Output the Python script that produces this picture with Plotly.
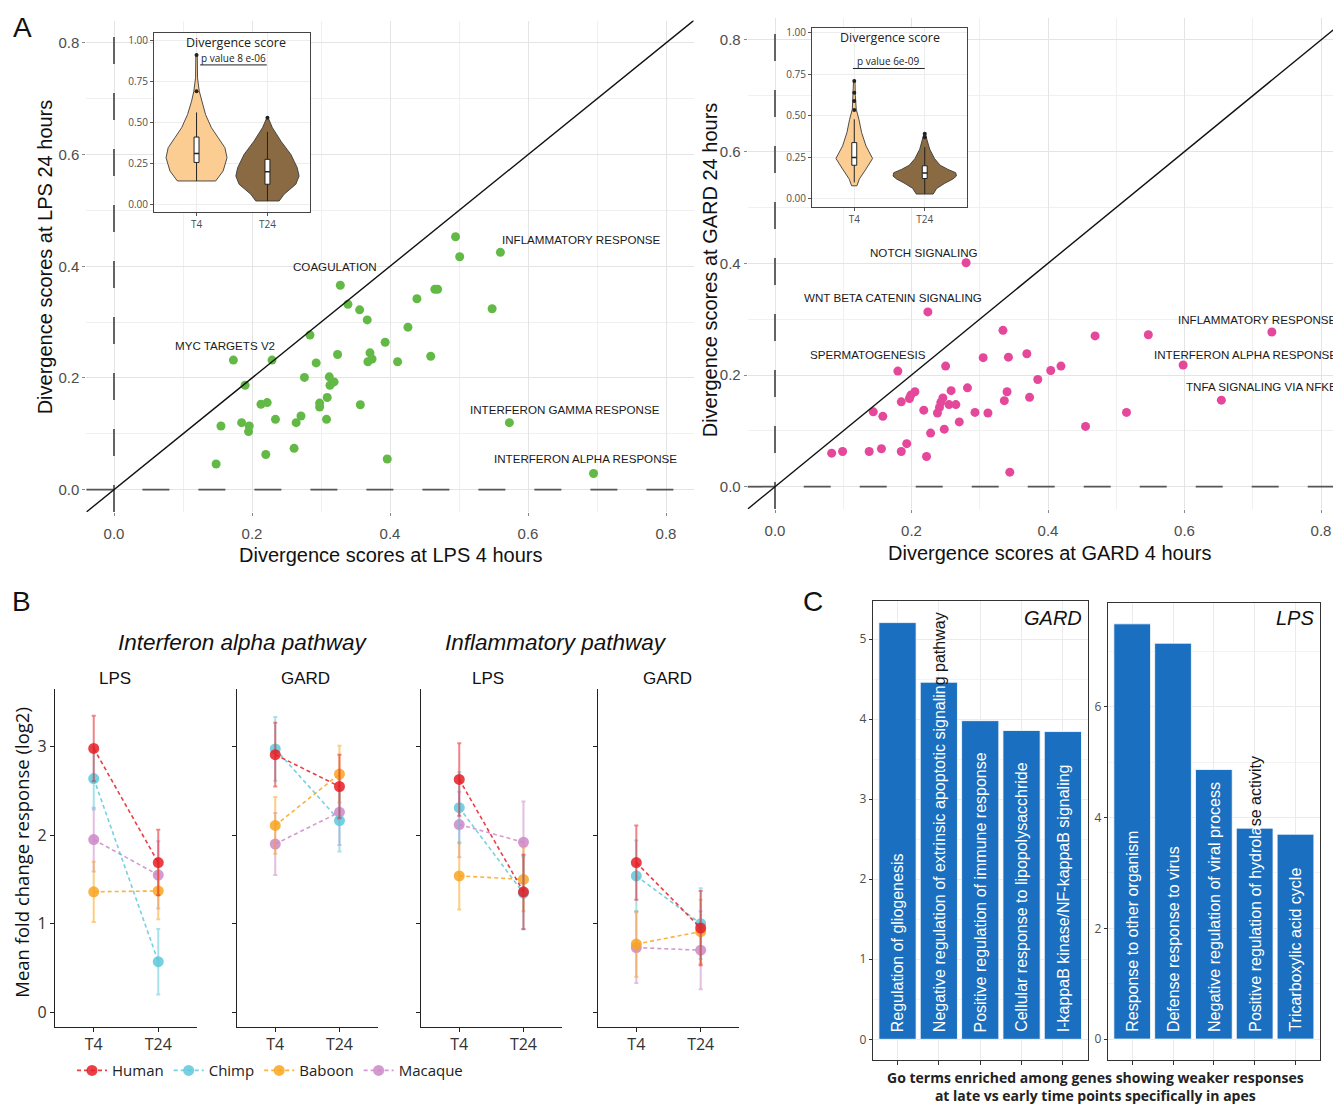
import plotly.graph_objects as go

# The page body adds an 8px margin, so the figure is sized/positioned to compensate.
OFF = 8
W, H = 1341, 1105
FW, FH = W - OFF, H - OFF
def fx(p): return (p - OFF) / FW
def fy(p): return 1 - (p - OFF) / FH

SANS = "Liberation Sans, Arial, sans-serif"
OPEN = "Open Sans, Liberation Sans, Arial, sans-serif"

# ---------------- Panel A data ----------------
lps4 = [0.495, 0.560, 0.501, 0.328, 0.339, 0.356, 0.367, 0.465, 0.469, 0.439, 0.548, 0.426,
        0.284, 0.393, 0.229, 0.173, 0.324, 0.371, 0.374, 0.368, 0.411, 0.459, 0.293, 0.276,
        0.312, 0.319, 0.313, 0.190, 0.309, 0.357, 0.298, 0.298, 0.213, 0.222, 0.271, 0.234,
        0.308, 0.264, 0.185, 0.196, 0.195, 0.155, 0.220, 0.261, 0.396, 0.148, 0.573, 0.695]
lps24 = [0.453, 0.425, 0.417, 0.366, 0.332, 0.322, 0.304, 0.359, 0.359, 0.342, 0.324, 0.291,
         0.277, 0.264, 0.232, 0.232, 0.242, 0.245, 0.234, 0.229, 0.229, 0.239, 0.227, 0.201,
         0.202, 0.193, 0.187, 0.187, 0.165, 0.152, 0.155, 0.148, 0.153, 0.156, 0.132, 0.126,
         0.126, 0.120, 0.120, 0.114, 0.104, 0.114, 0.063, 0.074, 0.055, 0.046, 0.120, 0.029]
gard4 = [0.280, 0.224, 0.334, 0.469, 0.547, 0.728, 0.305, 0.342, 0.369, 0.250, 0.180, 0.404,
         0.419, 0.598, 0.385, 0.654, 0.282, 0.340, 0.373, 0.336, 0.258, 0.205, 0.199, 0.197,
         0.185, 0.246, 0.243, 0.255, 0.265, 0.241, 0.218, 0.238, 0.293, 0.312, 0.515, 0.144,
         0.158, 0.270, 0.455, 0.228, 0.248, 0.193, 0.083, 0.099, 0.138, 0.156, 0.185, 0.222, 0.344]
gard24 = [0.401, 0.313, 0.280, 0.270, 0.272, 0.277, 0.231, 0.232, 0.238, 0.216, 0.207, 0.208,
          0.216, 0.218, 0.192, 0.155, 0.177, 0.170, 0.160, 0.154, 0.172, 0.170, 0.164, 0.158,
          0.152, 0.159, 0.151, 0.147, 0.147, 0.142, 0.137, 0.132, 0.133, 0.132, 0.133, 0.134,
          0.126, 0.116, 0.108, 0.096, 0.103, 0.077, 0.060, 0.063, 0.063, 0.068, 0.063, 0.054, 0.026]

lps_labels = ["INFLAMMATORY RESPONSE", "COAGULATION", "MYC TARGETS V2",
              "INTERFERON GAMMA RESPONSE", "INTERFERON ALPHA RESPONSE"]
lps_label_x = [0.677, 0.320, 0.161, 0.654, 0.683]
lps_label_y = [0.448, 0.400, 0.259, 0.143, 0.055]
gard_labels = ["NOTCH SIGNALING", "WNT BETA CATENIN SIGNALING", "SPERMATOGENESIS"]
gard_label_x = [0.219, 0.173, 0.136]
gard_label_y = [0.420, 0.339, 0.236]
gard_edge_labels = ["INFLAMMATORY RESPONSE", "INTERFERON ALPHA RESPONSE", "TNFA SIGNALING VIA NFKB"]
gard_edge_x = 0.8264
gard_edge_y = [0.300, 0.2375, 0.180]
a_ticks = [0.0, 0.2, 0.4, 0.6, 0.8]
a_ticktext = ["0.0", "0.2", "0.4", "0.6", "0.8"]

# ---------------- Inset violins (divergence score) ----------------
inset_ticks = [0, 0.25, 0.5, 0.75, 1.0]
inset_ticktext = ["0.00", "0.25", "0.50", "0.75", "1.00"]
time_pos = [1, 2]
time_labels = ["T4", "T24"]
# LPS inset
lv4_y = [0.142, 0.203, 0.284, 0.345, 0.406, 0.467, 0.547, 0.629, 0.69, 0.771, 0.912]
lv4_w = [0.27, 0.375, 0.43, 0.40, 0.305, 0.21, 0.127, 0.07, 0.038, 0.014, 0.01]
lv24_y = [0.02, 0.061, 0.122, 0.172, 0.223, 0.304, 0.385, 0.467, 0.527]
lv24_w = [0.165, 0.235, 0.40, 0.446, 0.42, 0.33, 0.19, 0.07, 0.01]
lbox_low = [0.142, 0.02]
lbox_q1 = [0.255, 0.122]
lbox_med = [0.31, 0.198]
lbox_q3 = [0.41, 0.274]
lbox_high = [0.56, 0.442]
lout4 = [0.69, 0.91]
lout24 = [0.527]
lps_p = "p value 8 e-06"
# GARD inset
gv4_y = [0.076, 0.116, 0.177, 0.241, 0.317, 0.398, 0.478, 0.538, 0.62, 0.715]
gv4_w = [0.038, 0.071, 0.166, 0.26, 0.166, 0.104, 0.066, 0.028, 0.015, 0.01]
gv24_y = [0.026, 0.06, 0.09, 0.117, 0.135, 0.155, 0.175, 0.2, 0.24, 0.297, 0.357, 0.393]
gv24_w = [0.12, 0.17, 0.28, 0.40, 0.45, 0.44, 0.33, 0.22, 0.14, 0.071, 0.03, 0.01]
gbox_low = [0.096, 0.026]
gbox_q1 = [0.2, 0.12]
gbox_med = [0.247, 0.153]
gbox_q3 = [0.337, 0.197]
gbox_high = [0.478, 0.31]
gout4 = [0.534, 0.589, 0.639, 0.709]
gout24 = [0.37, 0.39]
gard_p = "p value 6e-09"

# ---------------- Panel B data ----------------
species = ["Human", "Chimp", "Baboon", "Macaque"]
species_colors = ["228,30,38", "94,200,220", "249,165,30", "204,136,200"]
b_ticktext = ["T4", "T24"]
b_yticks = [0, 1, 2, 3]
b_panels = ["LPS", "GARD", "LPS", "GARD"]
b_pathways = ["Interferon alpha pathway", "Inflammatory pathway"]
ifn_lps_t4 = [2.98, 2.64, 1.36, 1.95]
ifn_lps_t24 = [1.69, 0.57, 1.37, 1.55]
ifn_lps_e4 = [0.37, 0.35, 0.34, 0.36]
ifn_lps_e24 = [0.37, 0.37, 0.32, 0.38]
ifn_gard_t4 = [2.91, 2.975, 2.11, 1.90]
ifn_gard_t24 = [2.55, 2.165, 2.69, 2.26]
ifn_gard_e4 = [0.36, 0.36, 0.32, 0.35]
ifn_gard_e24 = [0.36, 0.35, 0.32, 0.37]
inf_lps_t4 = [2.63, 2.31, 1.54, 2.12]
inf_lps_t24 = [1.36, 1.345, 1.50, 1.92]
inf_lps_e4 = [0.41, 0.40, 0.38, 0.37]
inf_lps_e24 = [0.42, 0.41, 0.36, 0.46]
inf_gard_t4 = [1.69, 1.54, 0.77, 0.73]
inf_gard_t24 = [0.95, 1.00, 0.91, 0.70]
inf_gard_e4 = [0.42, 0.40, 0.37, 0.40]
inf_gard_e24 = [0.42, 0.40, 0.36, 0.44]

# ---------------- Panel C data ----------------
c_pos = [1, 2, 3, 4, 5]
c_gard_terms = ["Regulation of gliogenesis",
                "Negative regulation of extrinsic apoptotic signaling pathway",
                "Positive regulation of immune response",
                "Cellular response to lipopolysacchride",
                "I-kappaB kinase/NF-kappaB signaling"]
c_gard_vals = [5.205, 4.46, 3.98, 3.857, 3.844]
c_lps_terms = ["Response to other organism", "Defense response to virus",
               "Negative regulation of viral process",
               "Positive regulation of hydrolase activity", "Tricarboxylic acid cycle"]
c_lps_vals = [7.50, 7.15, 4.87, 3.81, 3.70]
# characters of each label that sit inside the bar (the rest overflows above in black)
c_gard_split = [None, 51, None, None, None]
c_lps_split = [None, None, None, 30, None]

fig = go.Figure()

# ---------- Panel A scatter ----------
fig.add_trace(go.Scatter(x=lps4, y=lps24, mode="markers", xaxis="x", yaxis="y",
                         marker=dict(color="#63B946", size=9), showlegend=False))
fig.add_trace(go.Scatter(x=gard4, y=gard24, mode="markers", xaxis="x2", yaxis="y2",
                         marker=dict(color="#E5479B", size=9), showlegend=False))

# ---------- Insets ----------
BOX_HW = 0.035
def violin(center, ys, ws, color, xa, ya):
    xs = [center + w for w in ws] + [center - w for w in reversed(ws)] + [center + ws[0]]
    yy = list(ys) + list(reversed(ys)) + [ys[0]]
    fig.add_trace(go.Scatter(x=xs, y=yy, mode="lines", fill="toself", fillcolor=color,
                             line=dict(color="#3a3a3a", width=0.9), xaxis=xa, yaxis=ya,
                             showlegend=False, hoverinfo="skip"))

def boxplot(c, low, q1, med, q3, high, outs, xa, ya):
    fig.add_trace(go.Scatter(x=[c, c, None, c, c], y=[low, q1, None, q3, high], mode="lines",
                             line=dict(color="#222", width=1), xaxis=xa, yaxis=ya,
                             showlegend=False, hoverinfo="skip"))
    fig.add_trace(go.Scatter(x=[c - BOX_HW, c + BOX_HW, c + BOX_HW, c - BOX_HW, c - BOX_HW],
                             y=[q1, q1, q3, q3, q1], mode="lines", fill="toself",
                             fillcolor="white", line=dict(color="#222", width=1),
                             xaxis=xa, yaxis=ya, showlegend=False, hoverinfo="skip"))
    fig.add_trace(go.Scatter(x=[c - BOX_HW, c + BOX_HW], y=[med, med], mode="lines",
                             line=dict(color="#222", width=1.6), xaxis=xa, yaxis=ya,
                             showlegend=False, hoverinfo="skip"))
    fig.add_trace(go.Scatter(x=[c] * len(outs), y=outs, mode="markers",
                             marker=dict(color="#222", size=4), xaxis=xa, yaxis=ya,
                             showlegend=False, hoverinfo="skip"))

def inset(xa, ya, v4y, v4w, v24y, v24w, low, q1, med, q3, high, o4, o24):
    violin(time_pos[0], v4y, v4w, "#FCCD92", xa, ya)
    violin(time_pos[1], v24y, v24w, "#8A6A42", xa, ya)
    for i, outs in enumerate([o4, o24]):
        boxplot(time_pos[i], low[i], q1[i], med[i], q3[i], high[i], outs, xa, ya)

inset("x3", "y3", lv4_y, lv4_w, lv24_y, lv24_w, lbox_low, lbox_q1, lbox_med, lbox_q3,
      lbox_high, lout4, lout24)
inset("x4", "y4", gv4_y, gv4_w, gv24_y, gv24_w, gbox_low, gbox_q1, gbox_med, gbox_q3,
      gbox_high, gout4, gout24)

# ---------- Panel B ----------
b_data = [(ifn_lps_t4, ifn_lps_t24, ifn_lps_e4, ifn_lps_e24),
          (ifn_gard_t4, ifn_gard_t24, ifn_gard_e4, ifn_gard_e24),
          (inf_lps_t4, inf_lps_t24, inf_lps_e4, inf_lps_e24),
          (inf_gard_t4, inf_gard_t24, inf_gard_e4, inf_gard_e24)]
draw_order = [3, 2, 1, 0]
for k, (t4, t24, e4, e24) in enumerate(b_data):
    xa, ya = "x%d" % (5 + k), "y%d" % (5 + k)
    for s in draw_order:
        c = species_colors[s]
        fig.add_trace(go.Scatter(
            x=time_pos, y=[t4[s], t24[s]], mode="lines+markers", xaxis=xa, yaxis=ya,
            name=species[s], legendrank=s + 1, showlegend=(k == 0),
            line=dict(color="rgba(%s,0.85)" % c, width=1.6, dash="4px,3px"),
            marker=dict(color="rgba(%s,0.85)" % c, size=11),
            error_y=dict(type="data", array=[e4[s], e24[s]], color="rgba(%s,0.55)" % c,
                         thickness=2, width=2)))

# ---------- Panel C ----------
for vals, xa, ya in [(c_gard_vals, "x9", "y9"), (c_lps_vals, "x10", "y10")]:
    fig.add_trace(go.Bar(x=c_pos, y=vals, width=0.9, xaxis=xa, yaxis=ya,
                         marker=dict(color="#1B6FC0", line=dict(color="white", width=0.8)),
                         showlegend=False))

# ---------- Axes ----------
def dom_x(a, b): return [max(0.0, fx(a)), min(1.0, fx(b))]
def dom_y(top, bot): return [fy(bot), fy(top)]

tickfontA = dict(family=SANS, size=15, color="#4D4D4D")
axA = dict(showgrid=True, gridcolor="#E4E4E4", gridwidth=1.2, zeroline=False,
           ticks="outside", ticklen=3, tickcolor="#888", tickfont=tickfontA,
           tickvals=a_ticks, ticktext=a_ticktext, showline=False,
           minor=dict(dtick=0.1, tick0=0, showgrid=True, gridcolor="#F0F0F0", gridwidth=1))
layout = {}
layout["xaxis"] = dict(axA, domain=dom_x(86.4, 693.6), range=[-0.04, 0.84], anchor="y",
                       ticklabelstandoff=5)
layout["yaxis"] = dict(axA, domain=dom_y(17.6, 510.4), range=[-0.04, 0.84], anchor="x")
layout["xaxis2"] = dict(axA, domain=dom_x(747.7, 1341), range=[-0.04, 0.8293], anchor="y2",
                        ticklabelstandoff=5)
layout["yaxis2"] = dict(axA, domain=dom_y(14.6, 507.4), range=[-0.04, 0.84], anchor="x2")

axI = dict(showgrid=True, gridcolor="#EDEDED", zeroline=False, ticks="outside", ticklen=3,
           tickcolor="#555", showline=True, mirror=True, linecolor="#444", linewidth=1,
           tickfont=dict(family=OPEN, size=10, color="#4D4D4D"))
layout["xaxis3"] = dict(axI, domain=dom_x(154, 310), range=[0.4, 2.6], anchor="y3",
                        tickvals=time_pos, ticktext=time_labels)
layout["yaxis3"] = dict(axI, domain=dom_y(30, 210), range=[-0.05, 1.045], anchor="x3",
                        tickvals=inset_ticks, ticktext=inset_ticktext)
layout["xaxis4"] = dict(axI, domain=dom_x(812, 967), range=[0.4, 2.6], anchor="y4",
                        tickvals=time_pos, ticktext=time_labels)
layout["yaxis4"] = dict(axI, domain=dom_y(25, 205), range=[-0.055, 1.03], anchor="x4",
                        tickvals=inset_ticks, ticktext=inset_ticktext)

b_x = [(55, 197), (236.7, 378), (420.7, 562), (597.7, 739.3)]
axBx = dict(range=[0.4, 2.6], tickvals=time_pos, ticktext=b_ticktext, showgrid=False,
            zeroline=False, showline=True, linecolor="#222", linewidth=1.4, ticks="outside",
            ticklen=4, tickcolor="#222", tickfont=dict(family=OPEN, size=16, color="#333"),
            ticklabelstandoff=-2)
axBy = dict(range=[-0.17, 3.65], tickvals=b_yticks, showgrid=False, zeroline=False,
            showline=True, linecolor="#222", linewidth=1.4, ticks="outside", ticklen=4,
            tickcolor="#222", tickfont=dict(family=OPEN, size=16, color="#333"))
for k, (a, b) in enumerate(b_x):
    n = 5 + k
    layout["xaxis%d" % n] = dict(axBx, domain=dom_x(a, b), anchor="y%d" % n)
    layout["yaxis%d" % n] = dict(axBy, domain=dom_y(688, 1027), anchor="x%d" % n,
                                 showticklabels=(k == 0))

axCx = dict(range=[0.4, 5.6], tickvals=c_pos, showticklabels=False, showgrid=True,
            gridcolor="#EBEBEB", zeroline=False, showline=True, mirror=True, linecolor="#333",
            linewidth=1, ticks="outside", ticklen=4, tickcolor="#333")
axCy = dict(showgrid=True, gridcolor="#EBEBEB", zeroline=False, showline=True, mirror=True,
            linecolor="#333", linewidth=1, ticks="outside", ticklen=3, tickcolor="#333",
            tickfont=dict(family=OPEN, size=12, color="#4D4D4D"))
layout["xaxis9"] = dict(axCx, domain=dom_x(872.7, 1087.7), anchor="y9")
layout["yaxis9"] = dict(axCy, domain=dom_y(600, 1060), anchor="x9", range=[-0.26, 5.47],
                        dtick=1, tick0=0, minor=dict(dtick=0.5, showgrid=True, gridcolor="#F3F3F3"))
layout["xaxis10"] = dict(axCx, domain=dom_x(1107.7, 1320), anchor="y10")
layout["yaxis10"] = dict(axCy, domain=dom_y(601.7, 1060), anchor="x10", range=[-0.38, 7.875],
                         dtick=2, tick0=0, minor=dict(dtick=1, showgrid=True, gridcolor="#F3F3F3"))

# ---------- Shapes ----------
shapes = []
for xa, ya in [("x", "y"), ("x2", "y2")]:
    shapes.append(dict(type="line", xref=xa + " domain", x0=0, x1=1, yref=ya, y0=0, y1=0,
                       line=dict(color="#555", width=1.8, dash="27px,29px"), layer="above"))
    shapes.append(dict(type="line", yref=ya + " domain", y0=0, y1=1, xref=xa, x0=0, x1=0,
                       line=dict(color="#555", width=1.8, dash="27px,29px"), layer="above"))
    shapes.append(dict(type="line", xref=xa, yref=ya, x0=-0.1, y0=-0.1, x1=0.9, y1=0.9,
                       line=dict(color="#111", width=1.4)))
shapes.append(dict(type="line", xref="x3", yref="y3", x0=1.05, x1=1.99, y0=0.85, y1=0.85,
                   line=dict(color="#222", width=1)))
shapes.append(dict(type="line", xref="x4", yref="y4", x0=0.98, x1=2.0, y0=0.785, y1=0.785,
                   line=dict(color="#222", width=1)))

# ---------- Annotations ----------
ann = []
def txt(x, y, text, size, family=SANS, color="#111", xref="paper", yref="paper", angle=0,
        xanchor="center", yanchor="middle", **kw):
    d = dict(x=x, y=y, text=text, xref=xref, yref=yref, showarrow=False, textangle=angle,
             xanchor=xanchor, yanchor=yanchor, font=dict(family=family, size=size, color=color))
    d.update(kw)
    ann.append(d)

for t, x, y in zip(lps_labels, lps_label_x, lps_label_y):
    txt(x, y, t, 11.6, SANS, "#1a1a1a", "x", "y")
for t, x, y in zip(gard_labels, gard_label_x, gard_label_y):
    txt(x, y, t, 11.6, SANS, "#1a1a1a", "x2", "y2")
for t, y in zip(gard_edge_labels, gard_edge_y):
    txt(gard_edge_x, y, t, 11.6, SANS, "#1a1a1a", "x2", "y2", xanchor="right")

txt(fx(391), fy(553), "Divergence scores at LPS 4 hours", 20, SANS)
txt(fx(45), fy(255), "Divergence scores at LPS 24 hours", 20, SANS, angle=-90)
txt(fx(1049), fy(551), "Divergence scores at GARD 4 hours", 20, SANS)
txt(fx(710), fy(268), "Divergence scores at GARD 24 hours", 20, SANS, angle=-90)

txt(fx(236), fy(40), "Divergence score", 12.5, OPEN, "#222")
txt(fx(234), fy(55), lps_p, 10, OPEN, "#222")
txt(fx(889.5), fy(35), "Divergence score", 12.5, OPEN, "#222")
txt(fx(888), fy(58), gard_p, 10, OPEN, "#222")

txt(fx(22), fy(25), "A", 28, SANS)
txt(fx(21), fy(600), "B", 28, SANS)
txt(fx(813), fy(600), "C", 28, SANS)

txt(fx(242), fy(641), "<i>" + b_pathways[0] + "</i>", 22.5, SANS)
txt(fx(556), fy(641), "<i>" + b_pathways[1] + "</i>", 22.5, SANS)
for lab, xc in zip(b_panels, [115, 305, 488, 667]):
    txt(fx(xc), fy(677), lab, 17, SANS)
txt(fx(22), fy(852), "Mean fold change response (log2)", 18.5, OPEN, angle=-90)

txt(fx(1084), fy(617), "<i>GARD</i>", 20, SANS, xanchor="right")
txt(fx(1316), fy(617), "<i>LPS</i>", 20, SANS, xanchor="right")
txt(fx(1095), fy(1086),
    "<b>Go terms enriched among genes showing weaker responses</b><br><b>at late vs early time points specifically in apes</b>",
    14, OPEN, "#222")

def bar_labels(terms, splits, xa, ya):
    for i, (t, sp) in enumerate(zip(terms, splits)):
        if sp is None:
            text = t
        else:
            text = t[:sp] + "<span style='color:#151515'>" + t[sp:] + "</span>"
        txt(c_pos[i], 0, text, 16, SANS, "white", xa, ya, angle=-90, yanchor="bottom",
            yshift=5)
bar_labels(c_gard_terms, c_gard_split, "x9", "y9")
bar_labels(c_lps_terms, c_lps_split, "x10", "y10")

fig.update_layout(**layout)
fig.update_layout(
    width=FW, height=FH, margin=dict(l=0, r=0, t=0, b=0),
    paper_bgcolor="white", plot_bgcolor="white",
    shapes=shapes, annotations=ann,
    legend=dict(orientation="h", x=fx(72), y=fy(1054), xanchor="left", yanchor="top",
                font=dict(family=OPEN, size=15, color="#222"), bgcolor="rgba(0,0,0,0)",
                itemwidth=30, tracegroupgap=0),
    font=dict(family=SANS),
)
fig.write_html("out.html")
